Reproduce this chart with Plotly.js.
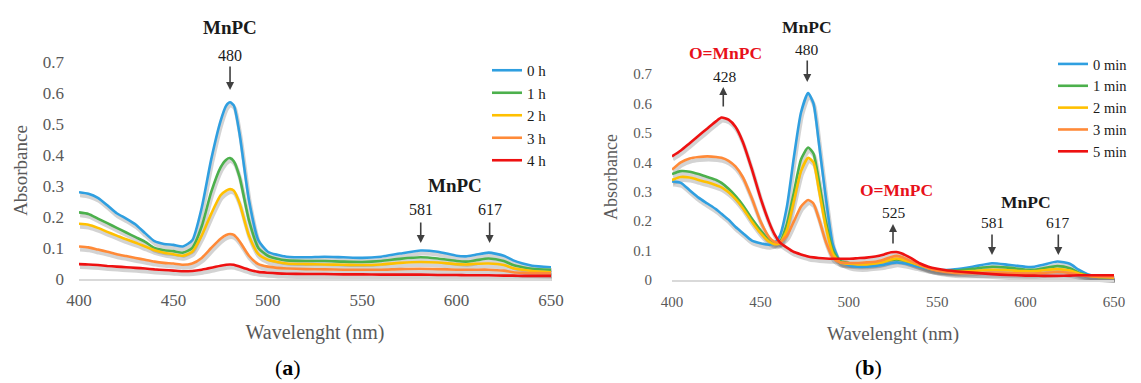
<!DOCTYPE html>
<html>
<head>
<meta charset="utf-8">
<script src="https://cdn.plot.ly/plotly-3.0.1.min.js"></script>
<style>html,body{margin:0;padding:0;background:#fff}#chart{width:1141px;height:383px}</style>
</head>
<body>
<div id="chart"></div>
<script>
// ---------- Panel (a): absorbance vs wavelength over hours ----------
const wlA = [400,405,410,415,420,425,430,435,440,445,450,455,460,465,470,475,478,480,482,485,490,495,500,505,510,520,530,540,550,560,570,581,590,600,605,610,617,625,630,635,640,650];
const namesA = ['0 h','1 h','2 h','3 h','4 h'];
const h0 = [0.280,0.275,0.262,0.238,0.212,0.195,0.176,0.148,0.122,0.113,0.110,0.105,0.125,0.230,0.385,0.510,0.560,0.570,0.560,0.470,0.255,0.125,0.088,0.078,0.072,0.070,0.072,0.070,0.068,0.072,0.082,0.092,0.088,0.075,0.073,0.078,0.085,0.075,0.060,0.050,0.043,0.038];
const h1 = [0.215,0.210,0.195,0.180,0.165,0.150,0.135,0.120,0.100,0.093,0.090,0.085,0.100,0.170,0.280,0.360,0.385,0.390,0.380,0.330,0.190,0.100,0.075,0.065,0.060,0.058,0.058,0.056,0.055,0.058,0.065,0.070,0.066,0.058,0.056,0.060,0.066,0.058,0.045,0.038,0.033,0.030];
const h2 = [0.178,0.175,0.165,0.152,0.140,0.128,0.117,0.105,0.093,0.085,0.080,0.075,0.088,0.140,0.210,0.270,0.285,0.290,0.285,0.245,0.140,0.080,0.062,0.055,0.050,0.048,0.047,0.046,0.045,0.047,0.052,0.055,0.053,0.048,0.047,0.049,0.050,0.045,0.035,0.030,0.026,0.022];
const h3 = [0.105,0.102,0.095,0.088,0.080,0.074,0.068,0.062,0.056,0.052,0.050,0.046,0.050,0.068,0.100,0.130,0.142,0.145,0.142,0.122,0.075,0.048,0.040,0.036,0.034,0.032,0.031,0.030,0.030,0.030,0.032,0.033,0.032,0.030,0.030,0.030,0.030,0.027,0.022,0.020,0.019,0.018];
const h4 = [0.048,0.047,0.045,0.042,0.040,0.038,0.036,0.034,0.031,0.029,0.027,0.025,0.026,0.030,0.036,0.043,0.046,0.047,0.046,0.040,0.030,0.023,0.020,0.018,0.017,0.016,0.016,0.015,0.015,0.014,0.014,0.014,0.013,0.013,0.012,0.012,0.012,0.011,0.011,0.010,0.010,0.010];

// ---------- Panel (b): absorbance vs wavelength over minutes ----------
const wlB = [400,405,410,415,420,425,428,432,436,440,445,450,455,458,461,465,469,473,477,480,483,487,491,495,500,505,510,515,520,524,527,530,535,540,545,550,555,560,570,581,590,600,605,610,618,625,630,635,640,650];
const namesB = ['0 min','1 min','2 min','3 min','5 min'];
const m0 = [0.335,0.330,0.305,0.280,0.260,0.240,0.225,0.205,0.180,0.160,0.135,0.125,0.120,0.125,0.150,0.250,0.420,0.570,0.635,0.600,0.470,0.280,0.120,0.065,0.050,0.045,0.045,0.048,0.052,0.057,0.060,0.058,0.052,0.045,0.038,0.035,0.034,0.036,0.045,0.057,0.052,0.045,0.045,0.052,0.063,0.055,0.035,0.020,0.012,0.008];
const m1 = [0.360,0.370,0.368,0.360,0.350,0.340,0.330,0.310,0.285,0.255,0.210,0.170,0.135,0.125,0.130,0.190,0.300,0.410,0.450,0.430,0.340,0.200,0.100,0.065,0.058,0.056,0.056,0.058,0.063,0.068,0.070,0.068,0.060,0.050,0.042,0.035,0.032,0.032,0.038,0.045,0.042,0.035,0.035,0.040,0.047,0.040,0.025,0.016,0.011,0.008];
const m2 = [0.340,0.350,0.348,0.340,0.332,0.322,0.315,0.298,0.275,0.245,0.200,0.160,0.130,0.122,0.125,0.170,0.270,0.370,0.415,0.400,0.310,0.180,0.090,0.060,0.055,0.053,0.053,0.056,0.062,0.070,0.073,0.070,0.060,0.050,0.040,0.033,0.030,0.028,0.030,0.035,0.033,0.030,0.030,0.033,0.037,0.032,0.022,0.015,0.011,0.008];
const m3 = [0.375,0.400,0.413,0.418,0.420,0.418,0.415,0.405,0.385,0.350,0.280,0.200,0.145,0.130,0.128,0.150,0.200,0.250,0.272,0.260,0.210,0.130,0.075,0.060,0.058,0.058,0.060,0.062,0.070,0.078,0.082,0.078,0.065,0.052,0.040,0.032,0.027,0.024,0.023,0.025,0.024,0.022,0.022,0.024,0.027,0.024,0.018,0.014,0.012,0.010];
const m5 = [0.420,0.440,0.465,0.490,0.515,0.540,0.552,0.545,0.520,0.470,0.380,0.280,0.195,0.155,0.128,0.110,0.095,0.087,0.080,0.077,0.075,0.073,0.072,0.072,0.072,0.074,0.076,0.080,0.087,0.094,0.095,0.090,0.075,0.057,0.045,0.038,0.033,0.030,0.025,0.020,0.017,0.015,0.015,0.014,0.014,0.015,0.016,0.016,0.016,0.016];

const colors = ['#2f9fe0','#4cb04c','#ffc000','#ff8a38','#ee1111'];
const seriesA = [h0,h1,h2,h3,h4];
const seriesB = [m0,m1,m2,m3,m5];

const FONT = '"Liberation Serif", serif';
const GRAY = '#595959';
const W = 1141, H = 383;
const px = v => v / W, py = v => 1 - v / H;
const YMAX = 0.7;

const data = [];
// soft drop-shadows (same data, drawn on slightly offset invisible axes underneath)
seriesA.forEach((ys) => data.push({x: wlA, y: ys, xaxis: 'x', yaxis: 'y', mode: 'lines', showlegend: false, hoverinfo: 'skip',
  line: {color: 'rgba(110,110,110,0.3)', width: 4, shape: 'spline', smoothing: 0.6}}));
seriesB.forEach((ys) => data.push({x: wlB, y: ys, xaxis: 'x2', yaxis: 'y2', mode: 'lines', showlegend: false, hoverinfo: 'skip',
  line: {color: 'rgba(110,110,110,0.3)', width: 4, shape: 'spline', smoothing: 0.6}}));
// main curves
seriesA.forEach((ys, i) => data.push({x: wlA, y: ys, xaxis: 'x3', yaxis: 'y3', mode: 'lines', name: namesA[i], legend: 'legend',
  line: {color: colors[i], width: 2.6, shape: 'spline', smoothing: 0.6}}));
seriesB.forEach((ys, i) => data.push({x: wlB, y: ys, xaxis: 'x4', yaxis: 'y4', mode: 'lines', name: namesB[i], legend: 'legend2',
  line: {color: colors[i], width: 2.6, shape: 'spline', smoothing: 0.6}}));

const hidden = (anchor, dom, rng) => ({domain: dom, range: rng, anchor: anchor, visible: false, fixedrange: true});

const xBase = (anchor, dom, fs, standoff, title, tsize, tstand) => ({
  domain: dom, anchor: anchor, range: [400, 650], tick0: 400, dtick: 50, showgrid: false, zeroline: false,
  showline: true, linecolor: '#d9d9d9', linewidth: 2, ticks: '', ticklabelstandoff: standoff,
  tickfont: {family: FONT, size: fs, color: GRAY},
  title: {text: title, font: {family: FONT, size: tsize, color: GRAY}, standoff: tstand}
});
const yBase = (anchor, dom, fs, standoff, title, tsize) => ({
  domain: dom, anchor: anchor, range: [0, YMAX], tick0: 0, dtick: 0.1, showgrid: false, zeroline: false,
  showline: false, ticks: '', ticklabelstandoff: standoff,
  tickfont: {family: FONT, size: fs, color: GRAY},
  title: {text: title, font: {family: FONT, size: tsize, color: GRAY}, standoff: 10}
});

const domXA = [px(79), px(551)], domYA = [py(279), py(62)];
const domXB = [px(672), px(1114)], domYB = [py(280), py(74)];

// annotation y given in absorbance units, placed via the axis domain so it may sit above the range
const arrow = (ax, x, y, ay) => ({xref: 'x' + ax, yref: 'y' + ax + ' domain', x: x, y: y / YMAX, ax: 0, ay: ay, text: '', showarrow: true,
  arrowhead: 2, arrowsize: 1, arrowwidth: 1.6, arrowcolor: '#404040'});
const label = (ax, x, y, text, size, color, bold) => ({xref: 'x' + ax, yref: 'y' + ax + ' domain', x: x, y: y / YMAX, text: bold ? '<b>' + text + '</b>' : text,
  showarrow: false, font: {family: FONT, size: size, color: color}, xanchor: 'center', yanchor: 'middle'});

const RED = '#e8101a', DARK = '#1a1a1a';
const annotations = [
  // panel (a)
  label(3,480,0.81,'MnPC',19,DARK,true),
  label(3,480,0.72,'480',16,DARK,false),
  arrow(3,480,0.61,-25),
  label(3,599,0.303,'MnPC',19,DARK,true),
  label(3,581,0.223,'581',16,DARK,false),
  arrow(3,581,0.116,-22),
  label(3,617.5,0.223,'617',16,DARK,false),
  arrow(3,617.5,0.116,-22),
  // panel (b)
  label(4,430,0.772,'O=MnPC',17.5,RED,true),
  label(4,430,0.69,'428',15.5,DARK,false),
  arrow(4,429,0.656,21),
  label(4,476.5,0.86,'MnPC',17.5,DARK,true),
  label(4,476.5,0.782,'480',15.5,DARK,false),
  arrow(4,476.5,0.673,-23),
  label(4,527,0.306,'O=MnPC',17.5,RED,true),
  label(4,525.5,0.231,'525',15.5,DARK,false),
  arrow(4,525,0.19,21),
  label(4,600.5,0.265,'MnPC',17.5,DARK,true),
  label(4,581,0.194,'581',15.5,DARK,false),
  arrow(4,581,0.085,-22),
  label(4,618.5,0.194,'617',15.5,DARK,false),
  arrow(4,618.5,0.085,-22),
  // panel letters
  {xref:'paper',yref:'paper',x:px(288),y:py(367),text:'(<b>a</b>)',showarrow:false,font:{family:FONT,size:22,color:'#000'},xanchor:'center',yanchor:'middle'},
  {xref:'paper',yref:'paper',x:px(868),y:py(367),text:'(<b>b</b>)',showarrow:false,font:{family:FONT,size:22,color:'#000'},xanchor:'center',yanchor:'middle'}
];

const layout = {
  width: W, height: H,
  margin: {l: 0, r: 0, t: 0, b: 0},
  paper_bgcolor: '#ffffff', plot_bgcolor: 'rgba(0,0,0,0)',
  font: {family: FONT, color: GRAY},
  showlegend: true,
  xaxis: hidden('y', [px(80), px(552)], [400, 650]),
  yaxis: hidden('x', [py(282), py(65)], [0, YMAX]),
  xaxis2: hidden('y2', [px(673), px(1115)], [400, 650]),
  yaxis2: hidden('x2', [py(283), py(77)], [0, YMAX]),
  xaxis3: xBase('y3', domXA, 17, 5, 'Wavelenght (nm)', 20, 16),
  yaxis3: yBase('x3', domYA, 17, 14, 'Absorbance', 19),
  xaxis4: xBase('y4', domXB, 15, 7, 'Wavelenght (nm)', 19, 18),
  yaxis4: yBase('x4', domYB, 15, 19, 'Absorbance', 18),
  legend: {x: px(487), y: py(54), xanchor: 'left', yanchor: 'top', bgcolor: 'rgba(0,0,0,0)',
    font: {family: FONT, size: 15, color: DARK}, tracegroupgap: 0, itemwidth: 30},
  legend2: {x: px(1053), y: py(48), xanchor: 'left', yanchor: 'top', bgcolor: 'rgba(0,0,0,0)',
    font: {family: FONT, size: 14.5, color: DARK}, tracegroupgap: 0, itemwidth: 30},
  annotations: annotations
};

Plotly.newPlot('chart', data, layout, {staticPlot: true, displayModeBar: false});
</script>
</body>
</html>
